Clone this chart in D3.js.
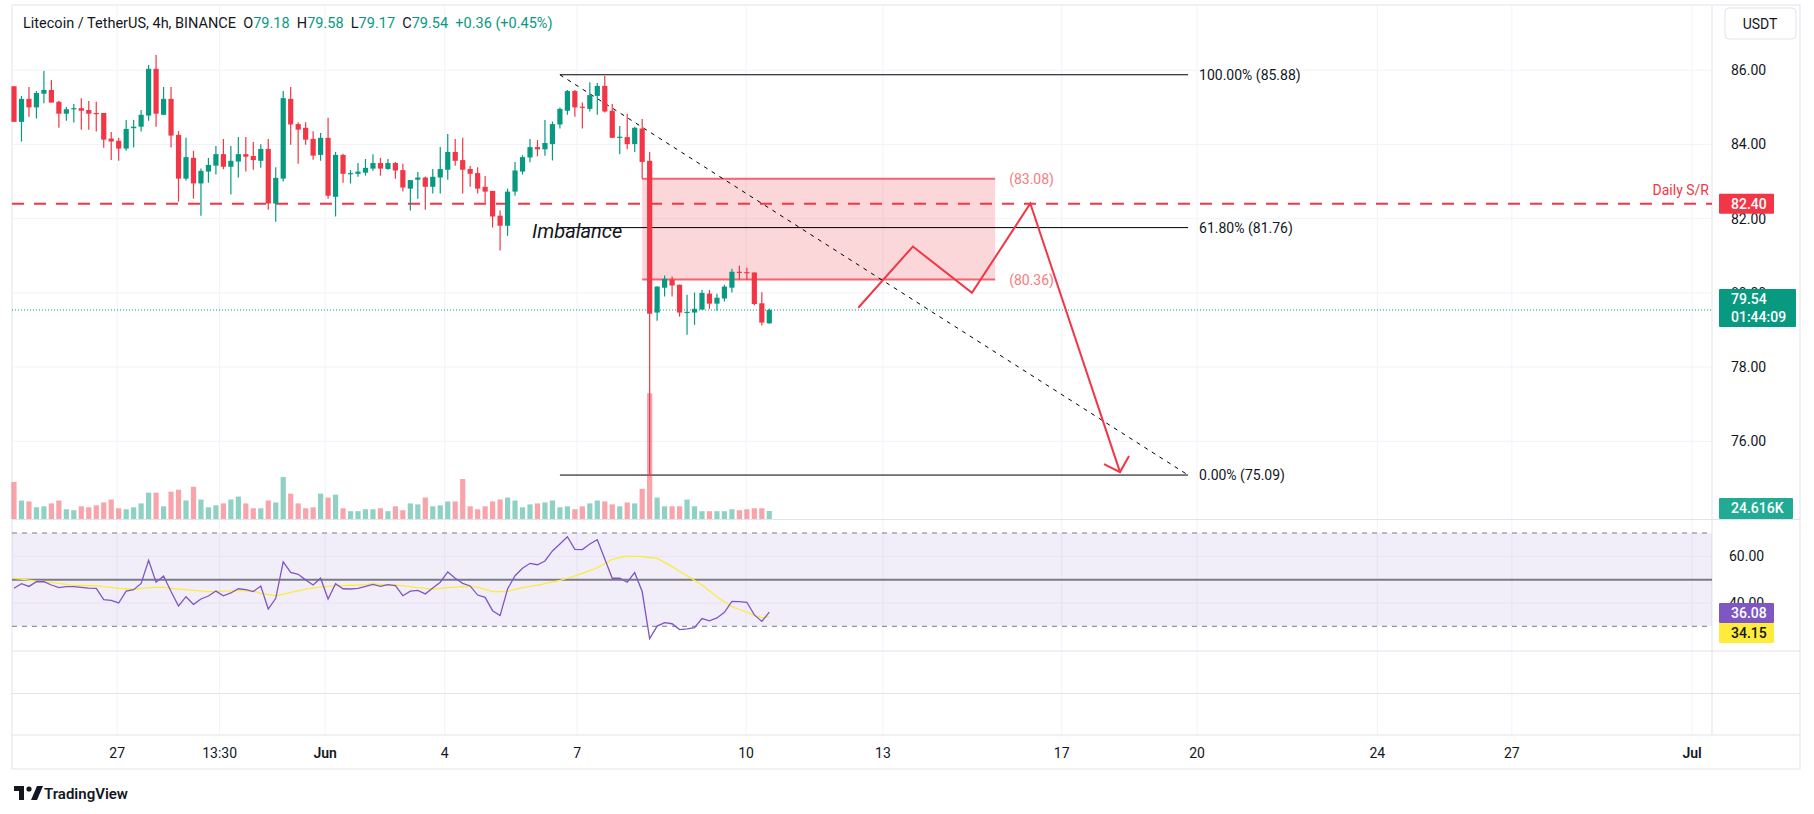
<!DOCTYPE html>
<html><head><meta charset="utf-8">
<script src="https://cdn.jsdelivr.net/npm/d3@7"></script>
<style>body{margin:0;background:#fff}svg{display:block;font-family:Roboto,"Noto Sans",sans-serif}text{white-space:pre}</style>
</head><body><svg id="c" width="1814" height="814"></svg>
<script>
const opens=[85.57,84.61,85.23,85.00,85.37,85.47,85.15,84.83,84.95,84.98,84.93,84.85,84.85,84.16,84.10,83.89,84.44,84.48,84.78,86.04,84.80,85.23,84.26,83.08,83.64,82.95,83.27,83.43,83.74,83.40,83.54,83.74,83.69,83.56,83.88,82.41,83.08,85.23,84.55,84.45,84.15,83.72,84.18,82.59,83.72,83.21,83.21,83.24,83.35,83.50,83.34,83.50,83.31,82.81,83.05,83.11,82.86,83.11,83.32,83.80,83.58,83.34,83.23,82.86,82.75,82.08,81.81,82.73,83.27,83.65,83.93,83.87,84.01,84.54,84.91,85.44,85.02,84.96,85.31,85.58,84.91,84.20,84.20,84.01,84.43,83.56,79.47,80.14,80.36,80.22,79.47,79.47,79.55,79.98,79.71,79.85,80.14,80.57,80.56,80.55,79.72,79.18];
const highs=[85.57,85.31,85.55,85.44,85.98,85.74,85.18,85.01,85.09,85.25,85.17,85.15,84.85,84.34,84.18,84.66,84.66,84.93,86.14,86.41,85.55,85.55,84.36,84.18,83.83,83.35,83.64,83.96,84.15,83.96,84.20,84.20,84.07,84.01,84.15,83.39,85.44,85.55,84.60,84.60,84.36,84.31,84.72,83.80,83.75,83.31,83.50,83.61,83.74,83.64,83.61,83.53,83.48,83.04,83.26,83.14,83.34,83.93,84.28,84.15,84.18,83.42,83.39,83.15,82.75,82.22,82.81,83.53,83.71,84.15,84.12,84.66,84.62,85.00,85.47,85.47,85.13,85.68,85.66,85.85,85.09,84.50,84.83,84.48,84.69,83.80,80.17,80.47,80.44,80.22,79.95,80.01,80.08,80.08,79.98,80.22,80.65,80.73,80.68,80.55,80.02,79.58];
const lows=[84.61,84.08,84.75,84.70,85.11,85.13,84.45,84.64,84.59,84.40,84.40,84.35,83.91,83.58,83.56,83.83,83.92,84.35,84.64,84.48,84.80,83.92,82.46,83.03,82.54,82.08,82.97,83.19,83.33,82.65,83.11,83.27,83.32,83.37,82.24,81.92,83.00,83.99,83.48,83.99,83.59,83.56,82.54,82.06,82.97,82.95,83.13,83.16,83.29,83.16,83.32,83.08,82.73,82.22,82.54,82.24,82.68,82.68,83.05,83.43,82.68,82.86,82.68,82.43,81.76,81.14,81.54,82.62,83.19,83.52,83.68,83.70,83.57,84.43,84.80,84.75,84.43,84.89,84.80,84.86,84.18,83.74,83.87,83.80,83.08,75.09,79.25,79.90,79.90,79.36,78.87,79.14,79.55,79.57,79.52,79.77,80.01,80.36,80.35,79.67,79.12,79.17];
const closes=[84.61,85.23,85.00,85.39,85.47,85.13,84.83,84.95,84.98,84.91,84.83,84.83,84.13,84.08,83.89,84.42,84.48,84.80,86.04,84.83,85.23,84.24,83.08,83.66,82.95,83.29,83.45,83.74,83.40,83.56,83.74,83.67,83.58,83.88,82.41,83.10,85.25,84.54,84.40,84.13,83.70,84.18,82.62,83.72,83.21,83.23,83.27,83.37,83.50,83.35,83.50,83.30,82.84,83.04,83.11,82.86,83.13,83.34,83.80,83.56,83.32,83.21,82.81,82.73,82.06,81.81,82.73,83.30,83.66,83.93,83.87,84.04,84.55,84.96,85.44,85.00,85.00,85.33,85.58,84.89,84.18,84.21,84.01,84.45,83.53,79.44,80.17,80.38,80.20,79.47,79.49,79.57,80.00,79.71,79.87,80.17,80.57,80.55,80.54,79.70,79.20,79.54];
const volumes=[114,57,54,36,39,48,57,30,27,39,36,42,51,60,33,30,36,48,81,81,39,84,90,57,99,60,36,42,48,60,69,48,33,33,57,51,129,78,48,33,36,78,66,75,33,24,24,30,30,33,24,39,27,48,45,66,39,42,54,54,123,39,30,39,54,60,66,57,36,45,48,51,57,36,39,30,39,48,57,54,45,39,51,48,93,387,66,39,39,39,60,39,24,24,24,24,30,27,30,33,33,24.616];
const rsi=[46.3,48.3,47.1,49.1,49.1,47.7,46.6,47,47,46.7,46.4,46.3,41.4,41.1,40,45.1,45.7,48.4,58.3,48.9,51.6,44.9,38.7,42.7,39.4,41.7,43,45.1,43.1,44.3,46.1,45.7,44.9,47.3,37.4,42,57.6,53.1,52.3,49.9,47.7,50.6,41.7,48.3,46.1,46,46.3,47.1,48,47.1,47.9,47.4,43.1,45.1,45.4,43.9,46.4,48.9,53.3,50.6,48.4,47.3,43.4,42.4,36.7,34.6,46,51.7,54.9,57,56.4,58,62.3,65.3,68.4,63,62.9,65.3,67.1,58.9,50.6,50.6,48.9,53,44.9,24.7,30.1,31.6,31.1,28.6,28.9,29.4,33.3,32.3,33.6,36,40.7,40.6,40.3,34.9,32.1,36.08];
const rsiMA=[50.6,50.2,49.8,49.4,49.1,48.8,48.4,48.0,47.4,47.5,47.4,47.4,47.0,46.7,46.3,46.0,46.0,46.3,46.6,46.7,46.8,46.3,45.9,45.7,45.4,45.2,44.9,45.0,45.1,45.2,45.4,45.2,45.1,44.1,43.6,43.1,43.8,44.5,45.2,45.9,46.4,46.9,47.1,47.3,47.4,47.6,47.7,47.9,48.3,48.0,47.7,47.7,47.3,47.0,46.6,46.3,46.0,46.3,46.6,46.8,47.0,46.9,46.8,45.8,44.9,44.9,45.0,45.8,46.6,47.1,47.7,48.3,48.9,49.7,50.6,51.6,52.7,53.9,55.1,56.9,58.7,59.4,60.1,60.0,59.9,59.5,59.1,57.4,55.6,53.6,51.7,49.7,47.7,45.2,42.7,40.5,38.4,37.2,36.0,34.8,33.6,34.15];
const priceTicks=[76,78,80,82,84,86];
const rsiTicks=[60,40];
const timeLabels=["27","13:30","Jun","4","7","10","13","17","20","24","27","Jul"];
const timeSlots=[13.8,27.5,41.6,57.6,75.3,97.9,116.2,140.1,158.2,182.3,200.3,224.4];
const fibLevels=[{pct:"100.00%",v:85.88},{pct:"61.80%",v:81.76},{pct:"0.00%",v:75.09}];
const fibSlots=[73,157];
const zoneTop=83.08, zoneBot=80.36, zoneSlots=[84,131.2];
const srLevel=82.40;
const pathSlots=[112.9,120.2,128.1,135.9,147.9];
const pathPrices=[79.6,81.25,80.0,82.41,75.17];
const lastPrice=79.54, rsiLast=36.08, rsiMALast=34.15;

const G="#089981", R="#f23645";
const svg=d3.select("#c");
const L=12, PR=1712, RE=1800;
const x=d3.scaleLinear().domain([0,101]).range([14,769.3]);
const y=d3.scaleLinear().domain([76,86]).range([441.3,70.3]);
const yr=d3.scaleLinear().domain([30,70]).range([626.3,533]);
const vh=d3.scaleLinear().domain([0,24.616]).range([0,8]);
const VB=519;

svg.append("rect").attr("x",L).attr("y",5).attr("width",RE-L).attr("height",764).attr("fill","none").attr("stroke","#e0e3eb");
svg.selectAll(".vg").data(timeSlots).join("line").attr("x1",d=>x(d)).attr("x2",d=>x(d)).attr("y1",6).attr("y2",735).attr("stroke","#f0f3fa");
svg.selectAll(".hg").data(priceTicks).join("line").attr("x1",L).attr("x2",PR).attr("y1",d=>y(d)).attr("y2",d=>y(d)).attr("stroke","#f0f3fa");
[519.5,651,693.5,735].forEach(v=>svg.append("line").attr("x1",L).attr("x2",RE).attr("y1",v).attr("y2",v).attr("stroke","#e0e3eb"));
svg.append("line").attr("x1",PR).attr("x2",PR).attr("y1",5).attr("y2",735).attr("stroke","#e0e3eb");

svg.append("rect").attr("x",x(zoneSlots[0])).attr("width",x(zoneSlots[1])-x(zoneSlots[0])).attr("y",y(zoneTop)).attr("height",y(zoneBot)-y(zoneTop)).attr("fill","rgba(242,54,69,0.2)");
[zoneTop,zoneBot].forEach(v=>svg.append("line").attr("x1",x(zoneSlots[0])).attr("x2",x(zoneSlots[1])).attr("y1",y(v)).attr("y2",y(v)).attr("stroke","#f23645").attr("stroke-opacity",0.75).attr("stroke-width",2));
[zoneTop,zoneBot].forEach(v=>svg.append("text").attr("x",x(zoneSlots[1])+14).attr("y",y(v)+5).attr("font-size",14).attr("fill","#f77c80").text("("+v.toFixed(2)+")"));

svg.append("line").attr("x1",L).attr("x2",PR).attr("y1",y(srLevel)).attr("y2",y(srLevel)).attr("stroke",R).attr("stroke-width",2).attr("stroke-dasharray","12,10");
svg.append("text").attr("x",PR-3).attr("y",y(srLevel)-9).attr("text-anchor","end").attr("font-size",14).attr("fill",R).text("Daily S/R");

fibLevels.forEach(f=>{
 svg.append("line").attr("x1",x(fibSlots[0])).attr("x2",x(fibSlots[1])).attr("y1",y(f.v)).attr("y2",y(f.v)).attr("stroke","#000");
 svg.append("text").attr("x",x(fibSlots[1])+11).attr("y",y(f.v)+5).attr("font-size",14).attr("fill","#131722").text(`${f.pct} (${f.v.toFixed(2)})`);
});
svg.append("line").attr("x1",x(fibSlots[0])).attr("y1",y(fibLevels[0].v)).attr("x2",x(fibSlots[1])).attr("y2",y(fibLevels[2].v)).attr("stroke","#000").attr("stroke-dasharray","4,5");

svg.selectAll(".vol").data(volumes).join("rect").attr("x",(d,i)=>x(i)-2.6).attr("width",5.2).attr("y",d=>VB-vh(d)).attr("height",d=>vh(d))
 .attr("fill",(d,i)=>closes[i]>=opens[i]?"rgba(8,153,129,0.45)":"rgba(242,54,69,0.45)");

svg.append("line").attr("x1",L).attr("x2",PR).attr("y1",y(lastPrice)).attr("y2",y(lastPrice)).attr("stroke",G).attr("stroke-dasharray","1,2");

const idx=d3.range(opens.length);
svg.selectAll(".wk").data(idx).join("line").attr("x1",i=>x(i)).attr("x2",i=>x(i)).attr("y1",i=>y(highs[i])).attr("y2",i=>y(lows[i]))
 .attr("stroke",i=>closes[i]>=opens[i]?G:R).attr("stroke-width",1.2);
svg.selectAll(".bd").data(idx).join("rect").attr("x",i=>x(i)-2.6).attr("width",5.2)
 .attr("y",i=>y(Math.max(opens[i],closes[i]))).attr("height",i=>Math.max(1.2,Math.abs(y(opens[i])-y(closes[i]))))
 .attr("fill",i=>closes[i]>=opens[i]?G:R);

svg.append("text").attr("x",532).attr("y",238).attr("font-size",20).attr("font-style","italic").attr("fill","#131722").text("Imbalance");

const pts=pathSlots.map((s,i)=>[x(s),y(pathPrices[i])]);
svg.append("path").attr("d",d3.line()(pts)).attr("fill","none").attr("stroke",R).attr("stroke-width",2);
const e=pts[pts.length-1];
svg.append("path").attr("d",`M${e[0]-16},${e[1]-8}L${e[0]},${e[1]}L${e[0]+9},${e[1]-16}`).attr("fill","none").attr("stroke",R).attr("stroke-width",2);

svg.append("rect").attr("x",L).attr("width",PR-L).attr("y",yr(70)).attr("height",yr(30)-yr(70)).attr("fill","rgba(126,87,194,0.1)");
svg.selectAll(".rg").data(rsiTicks).join("line").attr("x1",L).attr("x2",PR).attr("y1",d=>yr(d)).attr("y2",d=>yr(d)).attr("stroke","#e6e2f0");
[70,30].forEach(v=>svg.append("line").attr("x1",L).attr("x2",PR).attr("y1",yr(v)).attr("y2",yr(v)).attr("stroke","#787b86").attr("stroke-dasharray","5,5"));
svg.append("line").attr("x1",L).attr("x2",PR).attr("y1",yr(50)).attr("y2",yr(50)).attr("stroke","#787b86").attr("stroke-width",2);
svg.append("path").attr("d",d3.line().x((d,i)=>x(i)).y(d=>yr(d))(rsiMA)).attr("fill","none").attr("stroke","#fdeb3c").attr("stroke-width",1.3);
svg.append("path").attr("d",d3.line().x((d,i)=>x(i)).y(d=>yr(d))(rsi)).attr("fill","none").attr("stroke","#7e57c2").attr("stroke-width",1.3);

const pa=svg.append("g").attr("transform",`translate(${PR},0)`).call(d3.axisRight(y).tickValues(priceTicks).tickFormat(d3.format(".2f")).tickSize(0).tickPadding(19));
pa.select(".domain").remove();
pa.selectAll("text").attr("font-size",14).attr("fill","#131722").attr("font-family","Roboto");
const ra=svg.append("g").attr("transform",`translate(${PR},0)`).call(d3.axisRight(yr).tickValues(rsiTicks).tickFormat(d3.format(".2f")).tickSize(0).tickPadding(17));
ra.select(".domain").remove();
ra.selectAll("text").attr("font-size",14).attr("fill","#131722").attr("font-family","Roboto");

function box(y0,h,w,fill,lines,tc){
 svg.append("rect").attr("x",1719).attr("y",y0).attr("width",w).attr("height",h).attr("fill",fill).attr("rx",1);
 lines.forEach((t,k)=>svg.append("text").attr("x",1731).attr("y",y0+15+k*18).attr("font-size",14).attr("fill",tc).attr("font-weight",500).text(t));
}
box(y(srLevel)-10,20,55,R,[srLevel.toFixed(2)],"#fff");
box(y(lastPrice)-21,38,77,G,[lastPrice.toFixed(2),"01:44:09"],"#fff");
box(498,21,74,"#22ab94",[volumes[volumes.length-1].toFixed(3)+"K"],"#fff");
const pb=yr(rsiLast)-9;
box(pb,20,55,"#7e57c2",[rsiLast.toFixed(2)],"#fff");
box(pb+20,20,55,"#ffeb3b",[rsiMALast.toFixed(2)],"#131722");

svg.append("rect").attr("x",1725).attr("y",8).attr("width",71).attr("height",31).attr("rx",4).attr("fill","#fff").attr("stroke","#e0e3eb");
svg.append("text").attr("x",1760).attr("y",29).attr("text-anchor","middle").attr("font-size",14).attr("fill","#131722").text("USDT");

svg.selectAll(".tl").data(timeLabels).join("text").attr("x",(d,i)=>x(timeSlots[i])).attr("y",758).attr("text-anchor","middle")
 .attr("font-size",14).attr("fill","#131722").attr("font-weight",(d)=>d==="Jun"||d==="Jul"?600:400).text(d=>d);

const hd=svg.append("text").attr("x",23).attr("y",28).attr("font-size",14.5).attr("fill","#131722");
hd.append("tspan").text("Litecoin / TetherUS, 4h, BINANCE  ");
[["O","79.18"],["H","79.58"],["L","79.17"],["C","79.54"]].forEach(([k,v])=>{hd.append("tspan").text(k);hd.append("tspan").attr("fill",G).text(v+"  ");});
hd.append("tspan").attr("fill",G).text("+0.36 (+0.45%)");

const lg=svg.append("g").attr("transform","translate(14,786)");
lg.append("path").attr("d","M0,0H10V14H5V5H0Z").attr("fill","#131722");
lg.append("circle").attr("cx",15).attr("cy",3).attr("r",2.6).attr("fill","#131722");
lg.append("path").attr("d","M17,14L23,0H29L23,14Z").attr("fill","#131722");
svg.append("text").attr("x",44).attr("y",799).attr("font-size",15).attr("font-weight",600).attr("fill","#131722").text("TradingView");
</script></body></html>
